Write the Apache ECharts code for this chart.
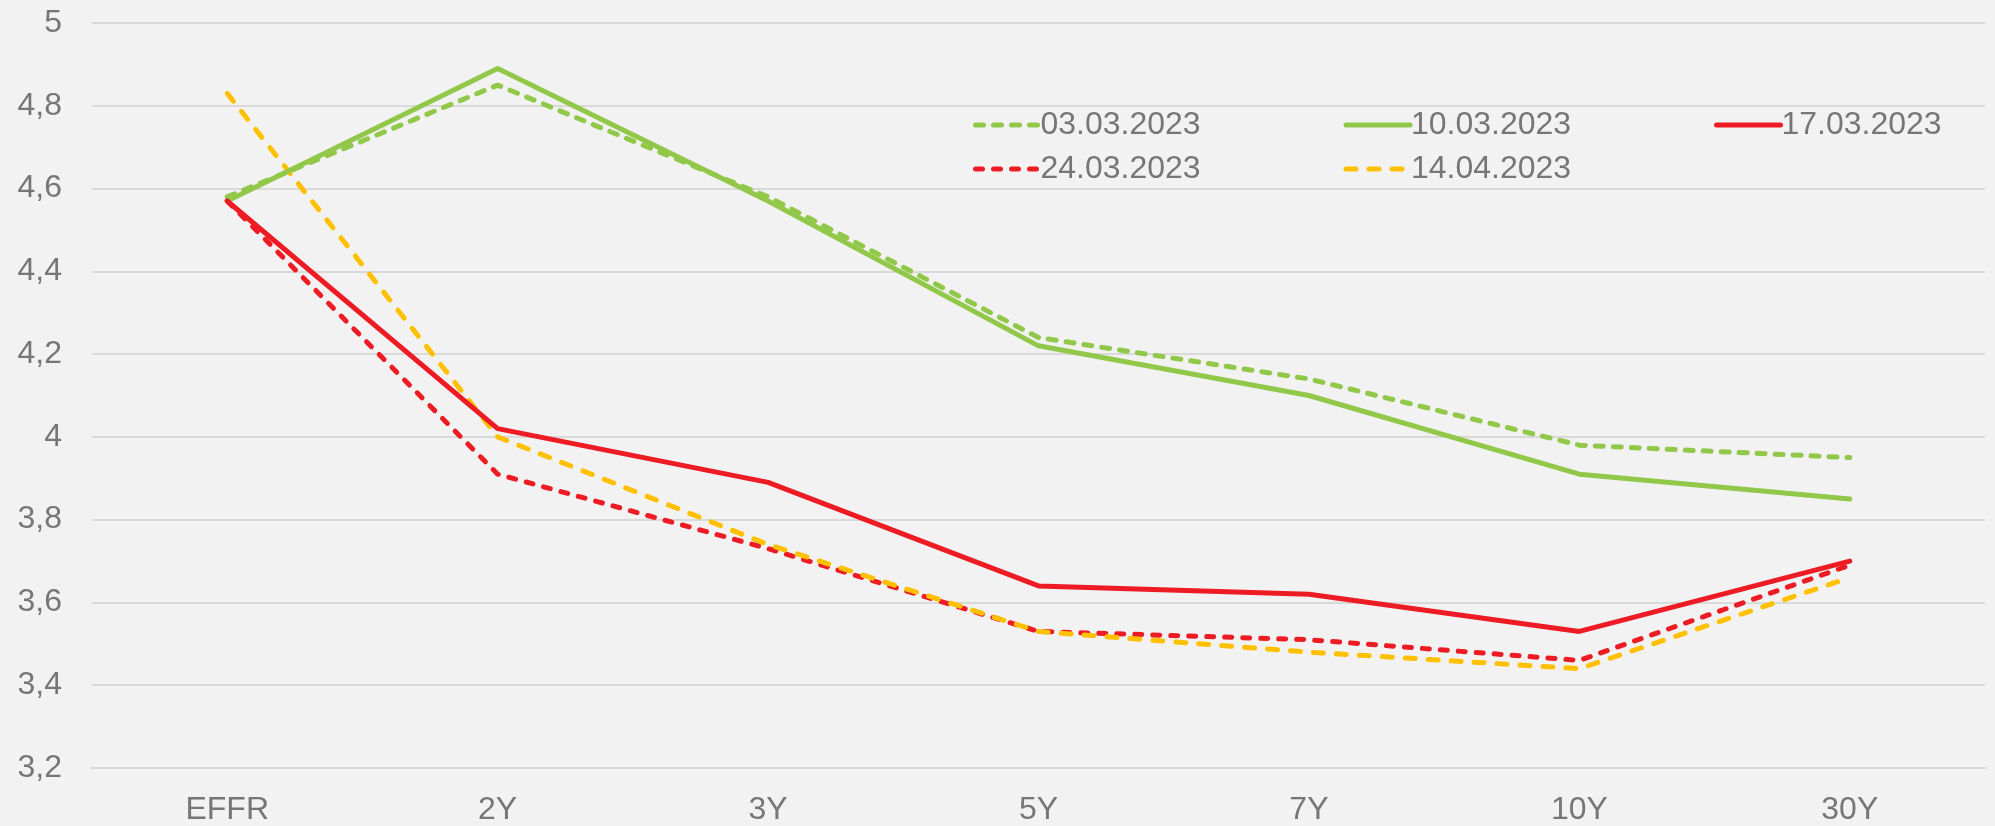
<!DOCTYPE html>
<html>
<head>
<meta charset="utf-8">
<script src="https://cdn.jsdelivr.net/npm/echarts@6/dist/echarts.min.js"></script>
<style>
  html, body { margin: 0; padding: 0; background: #f2f2f2; }
  #chart { width: 1995px; height: 826px; }
</style>
</head>
<body>
<div id="chart"></div>
<script>
// tenors on the x axis
const tenors = ["EFFR", "2Y", "3Y", "5Y", "7Y", "10Y", "30Y"];

// yields per date
const d0303 = [4.58, 4.85, 4.58, 4.24, 4.14, 3.98, 3.95];
const d1003 = [4.57, 4.89, 4.57, 4.22, 4.10, 3.91, 3.85];
const d1703 = [4.57, 4.02, 3.89, 3.64, 3.62, 3.53, 3.70];
const d2403 = [4.57, 3.91, 3.73, 3.53, 3.51, 3.46, 3.69];
const d1404 = [4.83, 4.00, 3.74, 3.53, 3.48, 3.44, 3.66];

const GREEN = "#92c84a";
const RED = "#ed1c24";
const YELLOW = "#ffc000";
const GREY = "#767676";
const FONT = "Liberation Sans";

const myChart = echarts.init(document.getElementById("chart"));

function line(name, data, color, type) {
  return {
    name: name,
    type: "line",
    data: data,
    symbol: "none",
    silent: true,
    z: type === "solid" ? 3 : 2,
    lineStyle: { color: color, width: 5, type: type, cap: "round" },
    itemStyle: { color: color }
  };
}

const legendBase = {
  left: 968,
  width: 1025,
  itemWidth: 64,
  itemHeight: 14,
  itemGap: 103,
  itemStyle: { opacity: 0 },
  lineStyle: { width: 5, cap: "round" },
  textStyle: {
    fontFamily: FONT,
    fontSize: 32,
    color: GREY,
    width: 200,
    lineHeight: 32,
    padding: [0, 0, 0, -4]
  },
  selectedMode: false
};

myChart.setOption({
  backgroundColor: "#f2f2f2",
  animation: false,
  grid: { left: 92, right: 10, top: 23, bottom: 55 },
  legend: [
    Object.assign({}, legendBase, { top: 104, data: ["03.03.2023", "10.03.2023", "17.03.2023"] }),
    Object.assign({}, legendBase, { top: 148, data: ["24.03.2023", "14.04.2023"] })
  ],
  xAxis: {
    type: "category",
    data: tenors,
    boundaryGap: true,
    axisLine: { show: true, lineStyle: { color: "#d9d9d9", width: 2 } },
    axisTick: { show: false },
    axisLabel: { fontFamily: FONT, fontSize: 32, color: GREY, margin: 26 }
  },
  yAxis: {
    type: "value",
    min: 3.2,
    max: 5,
    interval: 0.2,
    axisLine: { show: false },
    axisTick: { show: false },
    splitLine: { lineStyle: { color: "#d9d9d9", width: 2 } },
    axisLabel: {
      fontFamily: FONT,
      fontSize: 32,
      color: GREY,
      margin: 30,
      formatter: v => String(Math.round(v * 10) / 10).replace(".", ",")
    }
  },
  series: [
    line("03.03.2023", d0303, GREEN, [8, 10]),
    line("10.03.2023", d1003, GREEN, "solid"),
    line("17.03.2023", d1703, RED, "solid"),
    line("24.03.2023", d2403, RED, [7, 11]),
    line("14.04.2023", d1404, YELLOW, [10, 13])
  ]
});
</script>
</body>
</html>
